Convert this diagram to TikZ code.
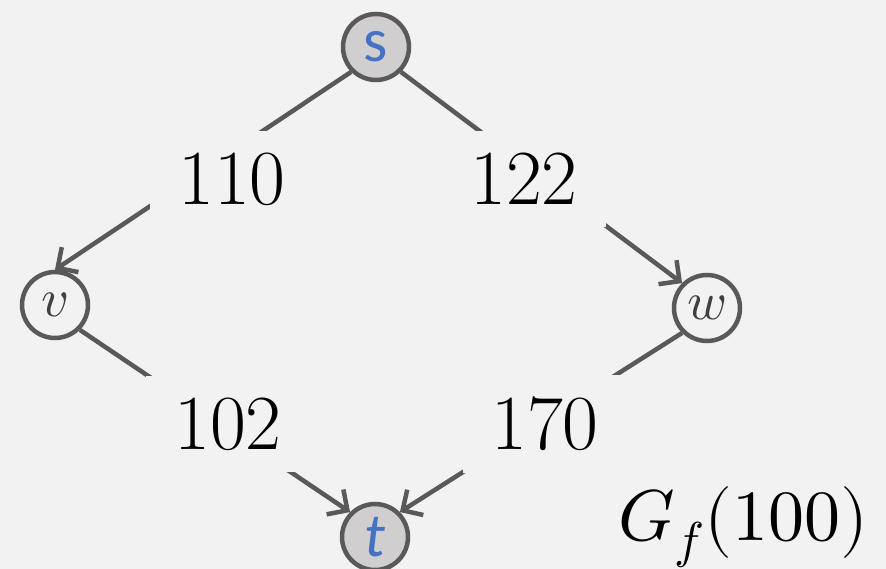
\documentclass[tikz,border=0pt]{standalone}
\usepackage{fontspec}
\usepackage{unicode-math}
\newfontfamily\carl{Carlito}
\usetikzlibrary{arrows.meta}
\definecolor{bg}{HTML}{F2F2F2}
\definecolor{edgec}{HTML}{595959}
\definecolor{nodefill}{HTML}{D0CECE}
\definecolor{lblue}{HTML}{4472C4}
\definecolor{ltext}{HTML}{404040}
\begin{document}
\begin{tikzpicture}[x=1pt,y=-1pt,
  vert/.style={circle,draw=edgec,line width=4.5pt,minimum size=66pt,inner sep=0pt},
  term/.style={vert,fill=nodefill,text=lblue,font=\carl\fontsize{62}{64}\selectfont},
  mid/.style={vert,fill=bg,text=ltext,font=\fontsize{54}{56}\selectfont},
  edge/.style={draw=edgec,line width=4.5pt,-{Straight Barb[length=15pt,width=30pt]}},
  lbl/.style={fill=bg,inner xsep=28pt,inner ysep=22pt,font=\fontsize{78}{80}\selectfont}]
\fill[bg] (0,0) rectangle (886,569);
\useasboundingbox (0,0) rectangle (886,569);
\node[term] (s) at (376,47) {s};
\node[mid] (v) at (55,305) {$v$};
\node[mid] (w) at (707,308) {$w$};
\node[term] (t) at (375,537) {\itshape t};
\draw[edge] (s.south west) -- (v.north);
\draw[edge] (s.south east) -- (w.north west);
\draw[edge] (v.south east) -- (t.north west);
\draw[edge] (w.south west) -- (t.north east);
\node[lbl] (l110) at (232,179) {110};
\node[lbl] (l122) at (524,179) {122};
\node[lbl] (l102) at (228,424) {102};
\node[lbl] (l170) at (545,424) {170};
\node[anchor=base west,inner sep=0pt,font=\fontsize{72}{74}\selectfont] (gf) at (618,540) {$G_f(100)$};
\end{tikzpicture}
\end{document}
